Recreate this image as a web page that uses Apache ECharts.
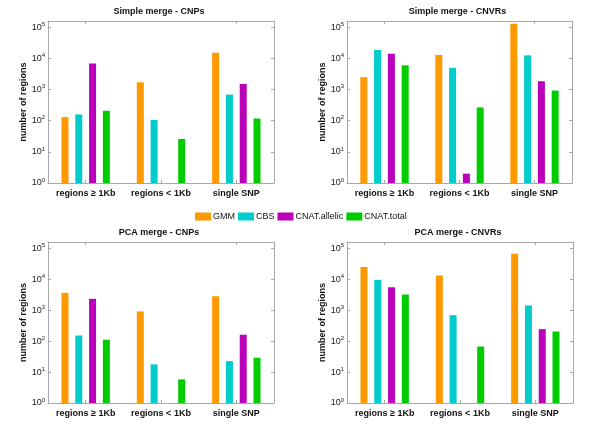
<!DOCTYPE html>
<html><head><meta charset="utf-8">
<script src="https://cdn.jsdelivr.net/npm/echarts@6/dist/echarts.min.js"></script>
<style>html,body{margin:0;padding:0;background:#fff}#c{width:600px;height:433px}</style>
</head><body><div id="c"></div>
<script>
// ---- data ----
const categories = ['regions \u2265 1Kb', 'regions < 1Kb', 'single SNP'];
const methods = ['GMM', 'CBS', 'CNAT.allelic', 'CNAT.total'];
const panelTitles = ['Simple merge - CNPs', 'Simple merge - CNVRs', 'PCA merge - CNPs', 'PCA merge - CNVRs'];
const yAxisTitle = 'number of regions';
const yMin = 1;
const yMax = 160000;

const simpleCNPs_GMM     = [131, 1720, 15400];
const simpleCNPs_CBS     = [159, 107, 690];
const simpleCNPs_allelic = [6900, null, 1520];
const simpleCNPs_total   = [209, 26, 118];

const simpleCNVRs_GMM     = [2500, 13000, 131000];
const simpleCNVRs_CBS     = [18800, 5000, 12600];
const simpleCNVRs_allelic = [14100, 2, 1860];
const simpleCNVRs_total   = [6040, 267, 935];

const pcaCNPs_GMM     = [3640, 910, 2830];
const pcaCNPs_CBS     = [152, 17.7, 22.6];
const pcaCNPs_allelic = [2330, null, 161];
const pcaCNPs_total   = [111, 5.8, 29];

const pcaCNVRs_GMM     = [25000, 13200, 67000];
const pcaCNVRs_CBS     = [9550, 690, 1420];
const pcaCNVRs_allelic = [5500, null, 244];
const pcaCNVRs_total   = [3200, 67, 205];

const panelData = [
  [simpleCNPs_GMM, simpleCNPs_CBS, simpleCNPs_allelic, simpleCNPs_total],
  [simpleCNVRs_GMM, simpleCNVRs_CBS, simpleCNVRs_allelic, simpleCNVRs_total],
  [pcaCNPs_GMM, pcaCNPs_CBS, pcaCNPs_allelic, pcaCNPs_total],
  [pcaCNVRs_GMM, pcaCNVRs_CBS, pcaCNVRs_allelic, pcaCNVRs_total]
];

// ---- styles / layout ----
const colors = ['#FF9900', '#00CCCC', '#BB00BB', '#00CC00'];
const FONT = 'Liberation Sans';
const axisGrey = '#a8a8a8';
const grids = [
  {left: 48, top: 21, width: 226, height: 162},
  {left: 347, top: 21, width: 225, height: 162},
  {left: 48, top: 242, width: 226, height: 161},
  {left: 347, top: 242, width: 226, height: 161}
];

function powLabel(v) {
  const l = Math.log10(v);
  const e = Math.round(l);
  if (Math.abs(l - e) > 1e-6) return '';
  return '{b|10}{s|' + e + '}';
}

const xAxes = [], yAxes = [], series = [], graphics = [];
grids.forEach((g, i) => {
  const common = {
    type: 'category', data: categories, gridIndex: i,
    axisLine: {show: true, lineStyle: {color: axisGrey, width: 1}},
    axisTick: {show: true, inside: true, alignWithLabel: true, length: 3, lineStyle: {color: axisGrey}},
    splitLine: {show: false}
  };
  xAxes.push(Object.assign({}, common, {
    position: 'bottom',
    axisLabel: {show: true, margin: 6, fontFamily: FONT, fontSize: 9, fontWeight: 'bold', color: '#111', interval: 0}
  }));
  xAxes.push(Object.assign({}, common, {position: 'top', axisLabel: {show: false}}));
  const ycommon = {
    type: 'log', logBase: 10, min: yMin, max: yMax, gridIndex: i,
    axisLine: {show: true, lineStyle: {color: axisGrey, width: 1}},
    axisTick: {show: true, inside: true, length: 3, lineStyle: {color: axisGrey}},
    splitLine: {show: false}
  };
  yAxes.push(Object.assign({}, ycommon, {
    position: 'left',
    name: yAxisTitle, nameLocation: 'middle', nameGap: 15,
    nameTextStyle: {fontFamily: FONT, fontSize: 9, fontWeight: 'bold', color: '#111'},
    axisLabel: {
      show: true, margin: 3, formatter: powLabel,
      rich: {
        b: {fontFamily: FONT, fontSize: 9, color: '#222', lineHeight: 12},
        s: {fontFamily: FONT, fontSize: 6, color: '#222', lineHeight: 12, verticalAlign: 'top', padding: [0, 0, 5, 0]}
      }
    }
  }));
  yAxes.push(Object.assign({}, ycommon, {position: 'right', axisLabel: {show: false}}));
  methods.forEach((m, k) => {
    series.push({
      type: 'bar', name: m, xAxisIndex: i * 2, yAxisIndex: i * 2,
      data: panelData[i][k], barWidth: 7, barGap: '97%',
      itemStyle: {color: colors[k]}, silent: true
    });
  });
  graphics.push({
    type: 'text', x: g.left + g.width / 2 - 2, y: g.top - 9,
    style: {text: panelTitles[i], font: 'bold 9px "' + FONT + '"', fill: '#111',
            align: 'center', verticalAlign: 'middle', textAlign: 'center', textVerticalAlign: 'middle'}
  });
});

const chart = echarts.init(document.getElementById('c'), null, {renderer: 'canvas'});
chart.setOption({
  animation: false,
  backgroundColor: '#fff',
  grid: grids.map(g => Object.assign({containLabel: false}, g)),
  xAxis: xAxes,
  yAxis: yAxes,
  series: series,
  legend: {
    data: methods, left: 195, top: 212, padding: 0, itemWidth: 16, itemHeight: 8, itemGap: 3,
    icon: 'rect',
    textStyle: {fontFamily: FONT, fontSize: 9, color: '#111', padding: [0, 0, 0, -3]}
  },
  graphic: graphics
});
</script>
</body></html>
